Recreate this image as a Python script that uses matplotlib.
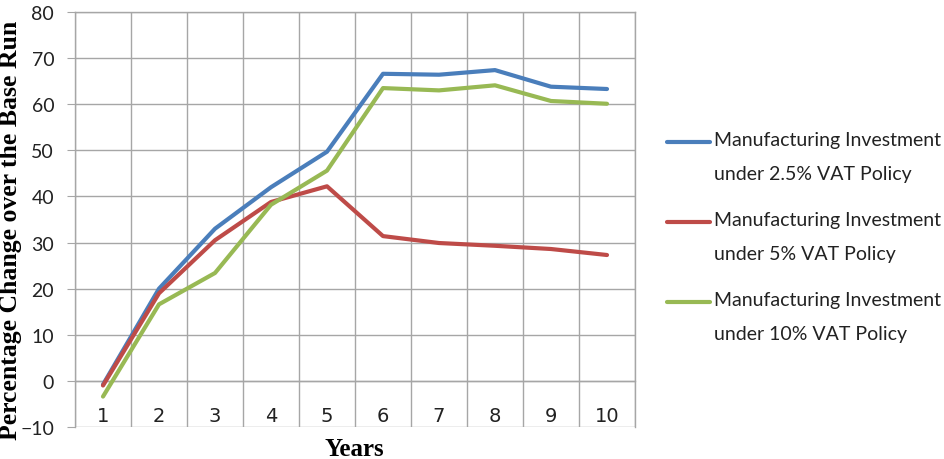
import matplotlib
matplotlib.use("Agg")
import matplotlib.pyplot as plt
from matplotlib.lines import Line2D

# data
years = [1, 2, 3, 4, 5, 6, 7, 8, 9, 10]
vat_2_5 = [-0.8, 20.0, 33.0, 42.0, 49.7, 66.6, 66.4, 67.4, 63.8, 63.3]
vat_5 = [-1.0, 19.0, 30.5, 38.8, 42.2, 31.4, 29.9, 29.3, 28.6, 27.3]
vat_10 = [-3.4, 16.6, 23.4, 38.2, 45.6, 63.5, 63.0, 64.1, 60.7, 60.1]

series_labels = [
    "Manufacturing Investment\nunder 2.5% VAT Policy",
    "Manufacturing Investment\nunder 5% VAT Policy",
    "Manufacturing Investment\nunder 10% VAT Policy",
]
colors = ["#4A7EBB", "#BE4B48", "#98B954"]
grid_c = "#A6A6A6"
sans = ["Lato", "DejaVu Sans"]
serif = ["Liberation Serif", "DejaVu Serif"]

W, H = 945, 460
fig = plt.figure(figsize=(W / 100, H / 100), dpi=100)
ax = fig.add_axes([75 / W, 1 - 428 / H, (635 - 75) / W, (428 - 13) / H])

for vals, c in zip([vat_2_5, vat_5, vat_10], colors):
    ax.plot(years, vals, color=c, lw=3.0, solid_capstyle="round", solid_joinstyle="round", zorder=3)

ax.set_xlim(0.5, 10.5)
ax.set_ylim(-10, 80)
ax.set_yticks(range(-10, 81, 10))
ax.set_xticks([i + 0.5 for i in range(0, 11)])
ax.set_xticklabels([])
ax.set_xticks(years, minor=True)
ax.set_xticklabels([str(y) for y in years], minor=True)
ax.tick_params(axis="x", which="both", length=0)
ax.tick_params(axis="x", which="minor", pad=18, labelsize=14, labelcolor="#222222")
for t in ax.get_xticklabels(minor=True):
    t.set_family(sans)
ax.tick_params(axis="y", length=6, color=grid_c, pad=9, labelsize=14, labelcolor="#222222")
for t in ax.get_yticklabels():
    t.set_family(sans)

ax.grid(True, which="major", color=grid_c, lw=1.0)
ax.set_axisbelow(True)
ax.spines["bottom"].set_position(("data", 0))
for s in ax.spines.values():
    s.set_color(grid_c)
    s.set_linewidth(1.0)

# axis titles
fig.text(11 / W, 1 - 440 / H, "Percentage Change over the Base Run", rotation=90,
         ha="center", va="bottom", fontsize=18.5, fontweight="bold", family=serif)
fig.text(354 / W, 1 - 450 / H, "Years", ha="center", va="center",
         fontsize=18, fontweight="bold", family=serif)

# legend drawn by hand so the line sits on the first text row
for i, (lab, c) in enumerate(zip(series_labels, colors)):
    y = 143 + i * 80
    fig.add_artist(Line2D([667 / W, 710 / W], [1 - y / H, 1 - y / H], color=c, lw=3.0,
                          solid_capstyle="round", transform=fig.transFigure))
    fig.text(714 / W, 1 - (y - 11) / H, lab, ha="left", va="top", fontsize=14,
             family=sans, color="#222222", linespacing=2.2)

fig.savefig("out.png", dpi=100)
